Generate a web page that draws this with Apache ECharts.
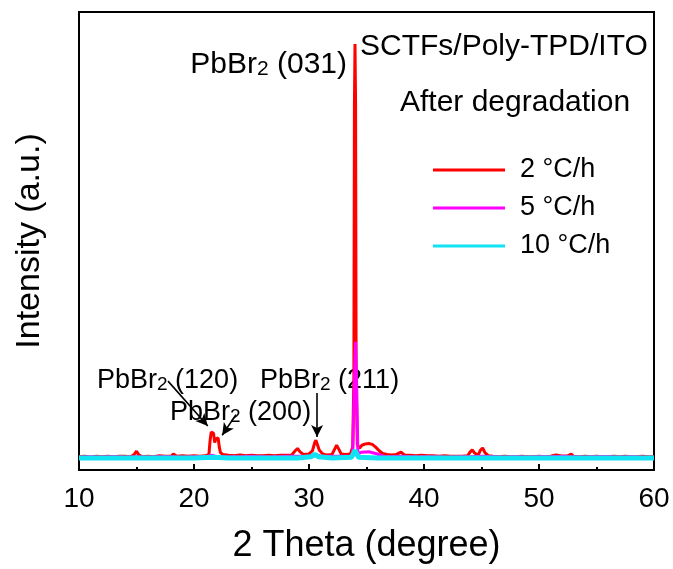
<!DOCTYPE html>
<html><head><meta charset="utf-8">
<script src="https://cdn.jsdelivr.net/npm/echarts@6/dist/echarts.min.js"></script>
<style>html,body{margin:0;padding:0;background:#fff}#c{width:673px;height:569px}</style>
</head><body><div id="c"></div>
<script>
const seriesNames = ['2 °C/h', '5 °C/h', '10 °C/h'];
const xTicks = [10, 20, 30, 40, 50, 60];

const redX = [10,10.5,11,11.5,12,12.5,13,13.5,14,14.5,14.8,15,15.2,15.5,16,16.5,17,17.5,18,18.2,18.5,19,19.5,20,20.5,21,21.3,21.4,21.5,21.6,21.7,21.8,21.9,22.0,22.1,22.2,22.3,22.5,23,23.5,24,24.5,25,25.5,26,26.5,27,27.5,28,28.5,28.8,29,29.2,29.5,30,30.3,30.5,30.6,30.7,30.9,31.2,31.5,32,32.2,32.4,32.6,32.8,33.2,33.6,33.8,33.9,33.95,34.0,34.05,34.1,34.2,34.4,34.6,34.9,35.2,35.5,35.8,36.1,36.4,36.8,37.2,37.6,38,38.3,38.8,39.3,39.8,40.3,40.8,41.3,41.8,42.3,42.8,43.3,43.8,44.0,44.2,44.4,44.7,44.9,45.1,45.3,45.6,46,46.5,47,47.5,48,48.5,49,49.5,50,50.5,51,51.5,52,52.5,52.8,53,53.5,54,54.5,55,55.5,56,56.5,57,57.5,58,58.5,59,59.5,60];
const redY = [2.9,3.0,2.8,3.0,2.9,3.0,2.9,3.0,3.0,2.9,3.4,4.1,3.3,2.9,3.0,2.9,3.1,3.0,3.0,3.5,3.0,3.1,3.0,3.1,3.0,3.1,3.4,6.5,8.3,8.6,8.0,6.0,6.8,7.2,7.0,5.0,3.8,3.4,3.2,3.1,3.3,3.1,3.2,3.1,3.1,3.2,3.1,3.2,3.2,3.3,4.2,4.7,4.0,3.4,3.5,4.2,6.0,6.5,6.2,4.3,3.5,3.3,3.4,4.4,5.4,4.5,3.5,3.4,3.5,5.0,20,80,93,80,20,5.5,4.8,5.4,5.7,5.8,5.6,5.0,4.2,3.6,3.4,3.3,3.4,3.9,3.3,3.2,3.1,3.2,3.1,3.1,3.0,3.1,3.0,3.0,3.0,3.1,3.9,4.4,3.7,3.2,4.3,4.8,3.8,3.1,3.0,2.9,3.0,2.9,2.9,3.0,2.9,2.9,3.0,2.9,3.0,3.3,3.0,3.1,3.5,3.0,2.9,3.0,2.9,3.0,2.9,2.9,3.0,2.9,3.0,2.9,2.9,3.0,2.9,2.9];

const magX = [10,11,12,13,14,15,16,17,18,19,20,21,21.6,22,23,24,25,26,27,28,29,30,30.6,31,32,33,33.8,33.95,34.05,34.15,34.25,34.6,35.2,35.8,36.5,37,38,39,40,41,42,43,44,45,46,47,48,49,50,51,52,53,54,55,56,57,58,59,60];
const magY = [2.8,2.9,2.8,2.9,2.8,2.9,2.8,2.9,2.9,2.8,2.9,2.9,3.2,2.9,2.9,2.9,3.0,2.9,2.9,3.0,3.0,3.0,3.4,3.0,3.0,3.0,3.0,20,28,18,3.5,3.9,4.0,3.6,3.0,2.9,3.0,2.9,2.9,2.9,2.8,2.9,2.9,3.0,2.9,2.8,2.9,2.8,2.9,2.9,3.0,2.9,2.8,2.9,2.9,2.8,2.9,2.8,2.8];

const cyanX = [10,12,14,16,18,20,21.6,23,25,27,29,30.2,30.5,30.8,32,33.7,34.0,34.3,36,38,40,42,44,46,48,50,52,54,56,58,60];
const cyanY = [2.6,2.6,2.6,2.6,2.6,2.6,2.8,2.6,2.6,2.6,2.6,2.9,3.4,2.9,2.6,2.8,4.3,2.8,2.6,2.6,2.6,2.6,2.6,2.6,2.6,2.6,2.6,2.6,2.6,2.6,2.6];

// arrows: [startX, startY, endX, endY] in data units
const arrows = [[17.74, 19.4, 21.2, 9.6], [23.65, 12.1, 22.45, 7.6], [30.7, 16.8, 30.7, 7.2]];

const pair = (xs, ys) => xs.map((x, i) => [x, ys[i]]);
const FONT = '"Liberation Sans", Arial, sans-serif';

function rt(main, sub, rest, size) {
  const ss = Math.round(size * 0.7);
  return {
    text: '{a|' + main + '}{s|' + sub + '}{a|' + rest + '}',
    rich: {
      a: { fontSize: size, fontFamily: FONT, fill: '#000', lineHeight: size + 4, verticalAlign: 'bottom' },
      s: { fontSize: ss, fontFamily: FONT, fill: '#000', lineHeight: ss + 3, verticalAlign: 'bottom' }
    },
    font: size + 'px ' + FONT
  };
}

const chart = echarts.init(document.getElementById('c'), null, { renderer: 'canvas' });
chart.setOption({
  animation: false,
  backgroundColor: '#fff',
  grid: { left: 79, right: 19, top: 12, bottom: 94, show: true, borderColor: '#000', borderWidth: 2, backgroundColor: 'transparent' },
  xAxis: {
    type: 'value', min: 10, max: 60, interval: 10,
    name: '2 Theta (degree)', nameLocation: 'middle', nameGap: 58,
    nameTextStyle: { fontSize: 36, fontFamily: FONT, color: '#000' },
    axisLine: { show: true, lineStyle: { color: '#000', width: 2 } },
    axisTick: { show: true, inside: true, length: 6, lineStyle: { color: '#000', width: 2 } },
    minorTick: { show: true, splitNumber: 2, length: 3, lineStyle: { color: '#000', width: 2 } },
    axisLabel: { fontSize: 28, fontFamily: FONT, color: '#000', margin: 15, formatter: v => xTicks.includes(v) ? String(v) : '' },
    splitLine: { show: false }
  },
  yAxis: {
    type: 'value', min: 0, max: 100,
    name: 'Intensity (a.u.)', nameLocation: 'middle', nameGap: 32,
    nameTextStyle: { fontSize: 34, fontFamily: FONT, color: '#000' },
    axisLine: { show: true, lineStyle: { color: '#000', width: 2 } },
    axisTick: { show: false }, axisLabel: { show: false }, splitLine: { show: false }
  },
  legend: {
    orient: 'vertical', left: 433, top: 155, padding: 0, itemWidth: 72, itemHeight: 3, itemGap: 8, icon: 'rect',
    data: seriesNames,
    textStyle: { fontSize: 27, fontFamily: FONT, color: '#000', lineHeight: 30, padding: [0, 0, 0, 10] }
  },
  series: [
    {
      name: seriesNames[0], type: 'line', data: pair(redX, redY), symbol: 'none', color: '#ff0000',
      lineStyle: { width: 3, color: '#ff0000' },
      markLine: {
        silent: true, symbol: ['none', 'arrow'], symbolSize: [9, 12],
        label: { show: false },
        lineStyle: { color: '#000', width: 1.6, type: 'solid' },
        data: arrows.map(a => [{ coord: [a[0], a[1]] }, { coord: [a[2], a[3]] }])
      }
    },
    { name: seriesNames[1], type: 'line', data: pair(magX, magY), symbol: 'none', color: '#ff00ff', lineStyle: { width: 3, color: '#ff00ff' } },
    { name: seriesNames[2], type: 'line', data: pair(cyanX, cyanY), symbol: 'none', color: '#10e4f4', lineStyle: { width: 5, color: '#10e4f4' } }
  ],
  graphic: [
    { type: 'text', x: 360, y: 47, style: { text: 'SCTFs/Poly-TPD/ITO', font: '30px ' + FONT, fill: '#000', textVerticalAlign: 'middle' } },
    { type: 'text', x: 400, y: 103, style: { text: 'After degradation', font: '30px ' + FONT, fill: '#000', textVerticalAlign: 'middle' } },
    { type: 'text', x: 347, y: 63, style: Object.assign(rt('PbBr', '2', ' (031)', 30), { textAlign: 'right', textVerticalAlign: 'middle' }) },
    { type: 'text', x: 97, y: 379, style: Object.assign(rt('PbBr', '2', ' (120)', 27), { textVerticalAlign: 'middle' }) },
    { type: 'text', x: 260, y: 379, style: Object.assign(rt('PbBr', '2', ' (211)', 27), { textVerticalAlign: 'middle' }) },
    { type: 'text', x: 170, y: 411, style: Object.assign(rt('PbBr', '2', ' (200)', 27), { textVerticalAlign: 'middle' }) }
  ]
});
</script>
</body></html>
